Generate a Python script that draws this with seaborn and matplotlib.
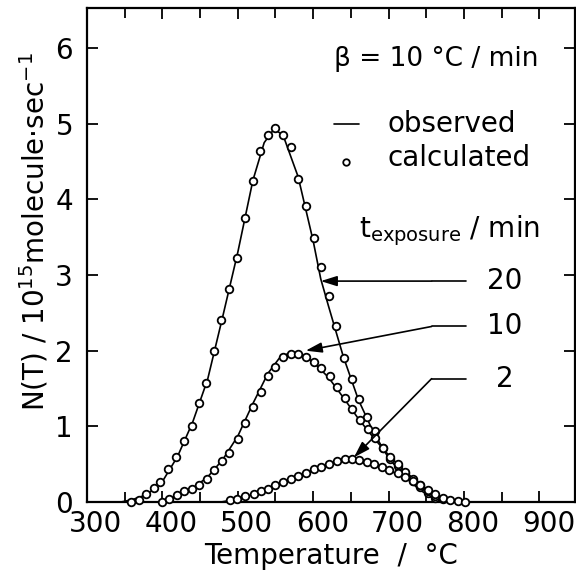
import numpy as np
import pandas as pd
import seaborn as sns
from matplotlib import pyplot as plt
from matplotlib.ticker import MultipleLocator
from matplotlib.transforms import ScaledTranslation

# calculated points (circles)
calc_T_20 = [359, 369, 378, 389, 397, 408, 418, 429, 439, 449, 458, 468, 478, 489, 499, 509,
             520, 530, 540, 549, 560, 570, 580, 590, 601, 611, 621, 630, 641, 651, 661, 672,
             682, 692, 702, 712, 722, 732, 742, 752, 762]
calc_N_20 = [0.0, 0.03, 0.1, 0.18, 0.27, 0.43, 0.6, 0.8, 1.01, 1.31, 1.57, 1.99, 2.4, 2.81, 3.22, 3.76,
             4.24, 4.64, 4.85, 4.94, 4.85, 4.69, 4.27, 3.91, 3.49, 3.1, 2.72, 2.33, 1.91, 1.63, 1.36, 1.12,
             0.94, 0.72, 0.57, 0.47, 0.38, 0.28, 0.2, 0.12, 0.05]

calc_T_10 = [400, 409, 420, 429, 439, 449, 459, 469, 479, 489, 500, 510, 520, 531, 540, 550,
             560, 570, 580, 591, 601, 611, 622, 631, 642, 652, 662, 673, 682, 692, 702, 712,
             722, 732, 742, 752, 762, 772]
calc_N_10 = [0.0, 0.04, 0.09, 0.14, 0.17, 0.23, 0.31, 0.42, 0.54, 0.65, 0.83, 1.04, 1.26, 1.45, 1.67, 1.79,
             1.92, 1.96, 1.96, 1.92, 1.85, 1.77, 1.67, 1.52, 1.37, 1.23, 1.09, 0.96, 0.84, 0.72, 0.6, 0.5,
             0.4, 0.31, 0.23, 0.15, 0.08, 0.04]

calc_T_2 = [490, 499, 510, 521, 531, 540, 550, 560, 570, 580, 590, 601, 611, 621, 631, 642,
            651, 661, 671, 681, 691, 701, 712, 722, 732, 742, 752, 762, 772, 782, 792, 801]
calc_N_2 = [0.02, 0.04, 0.08, 0.1, 0.14, 0.17, 0.22, 0.26, 0.31, 0.34, 0.38, 0.43, 0.46, 0.5, 0.54, 0.57,
            0.57, 0.56, 0.53, 0.5, 0.46, 0.42, 0.38, 0.33, 0.28, 0.22, 0.16, 0.1, 0.05, 0.03, 0.01, 0.0]

# observed curves (solid lines)
obs_T_20 = [345, 360, 380, 400, 420, 440, 460, 480, 500, 520, 535, 548, 560, 580, 600, 610,
            620, 640, 660, 680, 700, 720, 740, 760, 770]
obs_N_20 = [0.0, 0.03, 0.1, 0.27, 0.6, 1.05, 1.62, 2.45, 3.3, 4.25, 4.75, 4.93, 4.85, 4.3, 3.45, 2.95,
            2.6, 1.92, 1.35, 0.92, 0.58, 0.35, 0.17, 0.04, 0.0]

obs_T_10 = [395, 420, 440, 460, 480, 500, 520, 540, 555, 570, 585, 600, 620, 640, 660, 680,
            700, 720, 740, 760, 780, 790]
obs_N_10 = [0.0, 0.08, 0.18, 0.33, 0.56, 0.87, 1.3, 1.7, 1.9, 1.98, 1.95, 1.85, 1.65, 1.38, 1.1, 0.85,
            0.62, 0.42, 0.25, 0.1, 0.02, 0.0]

obs_T_2 = [478, 500, 520, 540, 560, 580, 600, 620, 640, 650, 660, 680, 700, 720, 740, 760, 780, 795]
obs_N_2 = [0.0, 0.04, 0.1, 0.17, 0.26, 0.34, 0.42, 0.5, 0.56, 0.57, 0.56, 0.5, 0.42, 0.33, 0.22, 0.1, 0.02, 0.0]

exposures = ['20', '10', '2']

obs = pd.concat([
    pd.DataFrame({'T': obs_T_20, 'N': obs_N_20, 'exp': '20'}),
    pd.DataFrame({'T': obs_T_10, 'N': obs_N_10, 'exp': '10'}),
    pd.DataFrame({'T': obs_T_2, 'N': obs_N_2, 'exp': '2'}),
])
calc = pd.concat([
    pd.DataFrame({'T': calc_T_20, 'N': calc_N_20, 'exp': '20'}),
    pd.DataFrame({'T': calc_T_10, 'N': calc_N_10, 'exp': '10'}),
    pd.DataFrame({'T': calc_T_2, 'N': calc_N_2, 'exp': '2'}),
])

sns.set_style('ticks')
plt.rcParams['font.family'] = ['DejaVu Sans']
plt.rcParams['text.color'] = 'black'
plt.rcParams['axes.labelcolor'] = 'black'

fig = plt.figure(figsize=(5.76, 5.72), dpi=100)
ax = fig.add_axes([0.151, 0.1224, 0.847, 0.8636])

sns.lineplot(data=obs, x='T', y='N', units='exp', estimator=None, sort=False,
             color='black', lw=1.2, ax=ax, legend=False)
sns.scatterplot(data=calc, x='T', y='N', marker='o', s=30, facecolor='white',
                edgecolor='black', linewidth=1.3, ax=ax, legend=False, zorder=3, clip_on=False)

ax.set_xlim(300, 947)
ax.set_ylim(0, 6.53)
ax.xaxis.set_major_locator(MultipleLocator(100))
ax.xaxis.set_minor_locator(MultipleLocator(50))
ax.yaxis.set_major_locator(MultipleLocator(1))
ax.tick_params(which='both', direction='in', top=True, right=True, width=1.3,
               labelsize=20, color='black', labelcolor='black')
ax.tick_params(which='major', length=8)
ax.tick_params(which='minor', length=7)
ax.tick_params(axis='x', pad=6)
ax.tick_params(axis='y', pad=10)
for sp in ax.spines.values():
    sp.set_linewidth(1.6)
    sp.set_color('black')

# the x tick labels sit a little right of their ticks in the original
shift = ScaledTranslation(9 / 100, 0, fig.dpi_scale_trans)
for lab in ax.get_xticklabels():
    lab.set_transform(lab.get_transform() + shift)

ax.set_xlabel('Temperature  /  °C', fontsize=20, labelpad=3)
ax.set_ylabel('N(T) / 10$^{15}$molecule·sec$^{-1}$', fontsize=20)
ax.yaxis.set_label_coords(-0.074, 0.547)

# annotations
ax.text(627, 5.85, 'β = 10 °C / min', fontsize=19, va='center', ha='left')
ax.plot([627, 661], [5.0, 5.0], color='black', lw=1.2)
ax.text(699, 5.0, 'observed', fontsize=20, va='center', ha='left')
ax.scatter([644], [4.49], marker='o', s=22, facecolor='white', edgecolor='black', linewidth=1.3)
ax.text(699, 4.55, 'calculated', fontsize=20, va='center', ha='left')
ax.text(661, 3.58, '$\\mathregular{t_{exposure}}$ / min', fontsize=20, va='center', ha='left')

label_x = 854
label_y = [2.92, 2.32, 1.63]
arrow_tip = [(610, 2.92), (590, 2.0), (654, 0.59)]
for lab, ly, tip in zip(exposures, label_y, arrow_tip):
    ax.text(label_x, ly, lab, fontsize=20, va='center', ha='center')
    ax.plot([802, 757], [ly, ly], color='black', lw=1.2)
    ax.annotate('', xy=tip, xytext=(757, ly),
                arrowprops=dict(arrowstyle='-|>,head_length=0.7,head_width=0.22', color='black',
                                lw=1.2, mutation_scale=14, shrinkA=0, shrinkB=0))

fig.savefig('out.png', dpi=100)
